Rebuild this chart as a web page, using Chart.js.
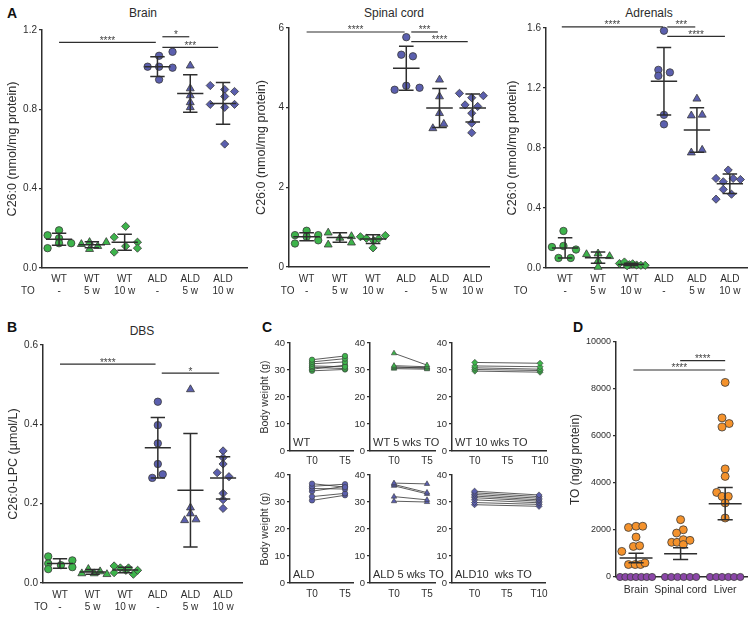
<!DOCTYPE html>
<html>
<head>
<meta charset="utf-8">
<title>C26:0 and TO levels</title>
<script src="https://cdn.jsdelivr.net/npm/chart.js@4.4.1/dist/chart.umd.min.js"></script>
<style>
  body { margin: 0; background: #fff; font-family: "Liberation Sans", Arial, Helvetica, sans-serif; color: #2b2b2b; }
  #fig { position: relative; width: 756px; height: 619px; overflow: hidden; }
  #fig canvas { position: absolute; }
  .panel { position: absolute; font-weight: bold; font-size: 14px; line-height: 15px; color: #111; }
  .title { position: absolute; font-size: 12px; line-height: 14px; transform: translateX(-50%); white-space: nowrap; }
</style>
</head>
<body>
<div id="fig">
  <div class="panel" style="left:7px;top:6px">A</div>
  <div class="panel" style="left:7px;top:320px">B</div>
  <div class="panel" style="left:262px;top:320px">C</div>
  <div class="panel" style="left:573px;top:320px">D</div>
  <div class="title" style="left:143px;top:6px">Brain</div>
  <div class="title" style="left:394px;top:6px">Spinal cord</div>
  <div class="title" style="left:649px;top:6px">Adrenals</div>
  <div class="title" style="left:142px;top:324px">DBS</div>

  <canvas id="brain" width="252" height="300" style="left:0px;top:0px"></canvas>
  <canvas id="spinal" width="244" height="300" style="left:252px;top:0px"></canvas>
  <canvas id="adrenals" width="256" height="300" style="left:500px;top:0px"></canvas>
  <canvas id="dbs" width="250" height="319" style="left:0px;top:300px"></canvas>
  <canvas id="c1" width="106" height="140" style="left:252px;top:330px"></canvas>
  <canvas id="c2" width="100" height="140" style="left:355px;top:330px"></canvas>
  <canvas id="c3" width="116" height="140" style="left:437px;top:330px"></canvas>
  <canvas id="c4" width="106" height="140" style="left:252px;top:462px"></canvas>
  <canvas id="c5" width="100" height="140" style="left:355px;top:462px"></canvas>
  <canvas id="c6" width="116" height="140" style="left:437px;top:462px"></canvas>
  <canvas id="dplot" width="201" height="319" style="left:555px;top:300px"></canvas>
</div>
<script>
var FONT = '"Liberation Sans", Arial, Helvetica, sans-serif';
var INK = '#2e2e2e', EDGE = '#3a3a3a';
var GREEN = '#3db44b', BLUE = '#5b5fae', ORANGE = '#f4922c', PURPLE = '#8b46a8';

// ---- data ----
var groups = [['WT', '-'], ['WT', '5 w'], ['WT', '10 w'], ['ALD', '-'], ['ALD', '5 w'], ['ALD', '10 w']];

var brainVals = [
    [0.19, 0.165, 0.15, 0.125, 0.125, 0.10],
    [0.12, 0.13, 0.095, 0.11, 0.13],
    [0.155, 0.08, 0.21, 0.11, 0.13, 0.10],
    [1.015, 1.07, 1.015, 0.95, 1.09, 1.01],
    [1.02, 0.905, 0.87, 0.835, 0.81],
    [0.92, 0.90, 0.865, 0.89, 0.825, 0.81, 0.825, 0.625]
];
var brainJit = [
    [0, -0.35, 0, 0, 0.37, -0.35],
    [-0.32, -0.07, -0.07, 0.18, 0.44],
    [-0.32, -0.32, 0.03, 0.03, 0.39, 0.39],
    [-0.3, 0.05, 0.05, 0.05, 0.46, 0.46],
    [0, 0, 0, 0, 0],
    [-0.39, 0.05, 0.05, 0.35, -0.39, 0.05, 0.35, 0.05]
];
var brainMean = [0.145, 0.117, 0.13, 1.015, 0.88, 0.83];
var brainSD = [0.03, 0.015, 0.04, 0.05, 0.095, 0.105];
var brainSig = [[0, 2.95, 1.138, '****'], [3.15, 3.97, 1.166, '*'], [3.15, 4.85, 1.112, '***']];

var spinalVals = [
    [0.80, 0.59, 0.91, 0.76, 0.80, 0.67],
    [0.86, 0.56, 0.73, 0.77, 0.61],
    [0.76, 0.72, 0.48, 0.66, 0.71, 0.79],
    [5.77, 5.33, 5.29, 4.45, 4.55, 4.50],
    [4.70, 4.28, 3.86, 3.48, 3.59],
    [4.36, 4.30, 4.25, 4.07, 4.03, 3.86, 3.61, 3.37]
];
var spinalJit = [
    [-0.35, -0.35, 0, 0, 0.35, 0.35],
    [-0.35, -0.35, 0, 0.35, 0.35],
    [-0.38, -0.2, 0, 0.02, 0.17, 0.37],
    [0, -0.15, 0.2, -0.35, 0, 0.4],
    [0, 0, 0, -0.2, 0.13],
    [-0.4, 0.32, -0.03, -0.23, 0.15, -0.03, -0.03, -0.03]
];
var spinalMean = [0.76, 0.74, 0.70, 4.99, 3.99, 3.99];
var spinalSD = [0.1, 0.12, 0.11, 0.55, 0.49, 0.35];
var spinalSig = [[0, 2.95, 5.9, '****'], [3.15, 3.95, 5.9, '***'], [3.15, 4.85, 5.66, '****']];

var adrVals = [
    [0.247, 0.14, 0.147, 0.123, 0.067, 0.067],
    [0.091, 0.096, 0.078, 0.047, 0.007],
    [0.03, 0.04, 0.022, 0.028, 0.02, 0.018, 0.018, 0.015],
    [1.582, 1.321, 1.281, 1.304, 1.021, 0.958],
    [1.128, 1.016, 1.021, 0.769, 0.787],
    [0.653, 0.597, 0.597, 0.59, 0.575, 0.524, 0.459, 0.492]
];
var adrJit = [
    [-0.05, -0.4, -0.05, 0.33, -0.2, 0.17],
    [-0.35, 0, 0.35, 0, 0],
    [-0.35, -0.2, -0.05, 0.05, 0.17, 0.3, 0.43, -0.12],
    [0, -0.17, -0.17, 0.18, 0, 0],
    [0, -0.17, 0.16, -0.17, 0.16],
    [-0.05, -0.42, 0.1, 0.32, -0.2, -0.2, -0.42, 0.05]
];
var adrMean = [0.134, 0.069, 0.024, 1.245, 0.92, 0.562];
var adrSD = [0.067, 0.037, 0.008, 0.225, 0.148, 0.065];
var adrSig = [[-0.1, 2.97, 1.607, '****'], [3.1, 3.95, 1.607, '***'], [3.1, 4.85, 1.544, '****']];

var dbsVals = [
    [0.067, 0.049, 0.035, 0.045, 0.057, 0.040],
    [0.024, 0.035, 0.024, 0.029, 0.022],
    [0.043, 0.026, 0.038, 0.032, 0.038, 0.022, 0.032],
    [0.457, 0.398, 0.352, 0.300, 0.265, 0.274],
    [0.488, 0.19, 0.175, 0.158, 0.16],
    [0.333, 0.316, 0.300, 0.278, 0.268, 0.226, 0.210, 0.188]
];
var dbsJit = [
    [-0.36, -0.36, -0.36, 0.03, 0.38, 0.38],
    [-0.33, -0.13, 0.05, 0.23, 0.44],
    [-0.34, -0.34, -0.15, 0.02, 0.1, 0.25, 0.38],
    [0, 0, 0, 0, -0.17, 0.15],
    [0, 0, 0, -0.18, 0.17],
    [0, 0, 0, -0.18, 0.18, 0, 0, 0]
];
var dbsMean = [0.049, 0.028, 0.033, 0.341, 0.234, 0.265];
var dbsSD = [0.012, 0.006, 0.007, 0.076, 0.143, 0.053];
var dbsSig = [[0, 2.93, 0.552, '****'], [3.12, 4.88, 0.529, '*']];

// body weight (g), one entry per mouse: start and end of treatment
var wtT0 = [33.8, 33.0, 32.3, 31.5, 31.0, 30.3, 29.7];
var wtT5 = [35.2, 34.2, 33.0, 31.2, 30.5, 31.8, 30.2];
var wt5T0 = [36.2, 31.6, 31.2, 30.8, 30.5];
var wt5T5 = [31.8, 31.2, 30.6, 30.9, 30.3];
var wt10T0 = [32.8, 31.5, 30.8, 30.2, 29.6];
var wt10T10 = [32.5, 31.2, 30.3, 29.8, 29.2];
var aldT0 = [36.8, 35.8, 35.0, 34.0, 32.0, 30.6];
var aldT5 = [35.5, 36.6, 34.8, 35.8, 33.2, 32.5];
var ald5T0 = [37.0, 36.5, 36.0, 32.0, 30.3];
var ald5T5 = [36.7, 33.5, 33.0, 30.8, 30.0];
var ald10T0 = [34.0, 33.4, 32.8, 32.2, 31.6, 30.8, 29.8, 29.0];
var ald10T10 = [32.6, 32.0, 31.4, 30.8, 30.3, 29.7, 29.1, 28.4];

var toCats = ['Brain', 'Spinal cord', 'Liver'];
var toPos = [
    [2110, 2160, 2160, 1700, 1300, 1330, 1090, 530, 530, 530, 600],
    [2440, 2010, 1870, 1475, 1475, 1590, 1560, 1380],
    [8280, 6770, 6380, 6530, 4600, 4280, 3600, 3430, 3430, 3150, 2510]
];
var toPosJit = [
    [-0.17, 0, 0.15, 0, -0.06, 0.08, -0.32, -0.17, -0.02, 0.1, 0.2],
    [0, 0.06, -0.09, -0.2, -0.08, 0.06, 0.21, 0.06],
    [0, -0.07, -0.07, 0.09, 0, 0, -0.19, -0.07, 0.07, 0, 0]
];
var toNeg = [[0, 0, 0, 0, 0, 0, 0], [0, 0, 0, 0, 0, 0], [0, 0, 0, 0, 0, 0]];
var toNegJit = [
    [-0.36, -0.24, -0.12, 0, 0.12, 0.24, 0.36],
    [-0.35, -0.21, -0.07, 0.07, 0.21, 0.35],
    [-0.34, -0.2, -0.07, 0.07, 0.2, 0.34]
];
var toMean = [808, 993, 3121];
var toSEM = [200, 250, 690];
var toSig = [[0.99, 2.0, 9206, '****'], [-0.06, 2.0, 8809, '****']];

// ---- defaults ----
Chart.defaults.font.family = FONT;
Chart.defaults.color = INK;
Chart.defaults.animation = false;
Chart.defaults.responsive = false;
Chart.defaults.devicePixelRatio = 1;
Chart.defaults.events = [];
Chart.defaults.plugins.legend.display = false;
Chart.defaults.plugins.tooltip.enabled = false;

// ---- plugins ----
var errorBars = {
    id: 'errorBars',
    afterDatasetsDraw: function (chart, args, opts) {
        if (!opts.mean) return;
        var ctx = chart.ctx, x = chart.scales.x, y = chart.scales.y;
        ctx.save();
        ctx.strokeStyle = INK;
        ctx.lineWidth = 1.5;
        opts.mean.forEach(function (m, i) {
            var e = opts.err[i];
            var xc = x.getPixelForValue(i);
            var w = x.getPixelForValue(i + opts.w) - xc;
            var cw = x.getPixelForValue(i + opts.cw) - xc;
            var ym = y.getPixelForValue(m), yt = y.getPixelForValue(m + e), yb = y.getPixelForValue(m - e);
            ctx.beginPath();
            ctx.moveTo(xc - w, ym); ctx.lineTo(xc + w, ym);
            ctx.moveTo(xc, yt); ctx.lineTo(xc, yb);
            ctx.moveTo(xc - cw, yt); ctx.lineTo(xc + cw, yt);
            ctx.moveTo(xc - cw, yb); ctx.lineTo(xc + cw, yb);
            ctx.stroke();
        });
        ctx.restore();
    }
};

var sigBars = {
    id: 'sigBars',
    afterDraw: function (chart, args, opts) {
        if (!opts.bars) return;
        var ctx = chart.ctx, x = chart.scales.x, y = chart.scales.y;
        ctx.save();
        ctx.strokeStyle = INK;
        ctx.fillStyle = '#444';
        ctx.lineWidth = 1.2;
        ctx.font = '10px ' + FONT;
        ctx.textAlign = 'center';
        ctx.textBaseline = 'alphabetic';
        opts.bars.forEach(function (b) {
            var x1 = x.getPixelForValue(b[0]), x2 = x.getPixelForValue(b[1]), yy = y.getPixelForValue(b[2]);
            ctx.beginPath();
            ctx.moveTo(x1, yy); ctx.lineTo(x2, yy);
            ctx.stroke();
            ctx.fillText(b[3], (x1 + x2) / 2, yy + 1.5);
        });
        ctx.restore();
    }
};

var notes = {
    id: 'notes',
    afterDraw: function (chart, args, opts) {
        var ctx = chart.ctx, x = chart.scales.x, a = chart.chartArea;
        ctx.save();
        ctx.fillStyle = INK;
        if (opts.toX !== undefined) {
            ctx.font = '10px ' + FONT;
            ctx.textAlign = 'center';
            ctx.textBaseline = 'middle';
            ctx.fillText('TO', x.getPixelForValue(opts.toX), x.top + opts.xPad + 12.5 * 1.5);
        }
        if (opts.corner) {
            ctx.font = '11px ' + FONT;
            ctx.textAlign = 'left';
            ctx.textBaseline = 'bottom';
            ctx.fillText(opts.corner, a.left + 3, a.bottom - 3);
        }
        ctx.restore();
    }
};

// canvas box -> padding so that the plot area lands on the given absolute box
function frame(id, area) {
    var c = document.getElementById(id);
    var L = parseInt(c.style.left), T = parseInt(c.style.top);
    return {
        el: c, left: L,
        pad: {left: 0, top: area[1] - T, right: L + c.width - area[2], bottom: 0},
        yw: area[0] - L, xh: T + c.height - area[3]
    };
}

function scatterPoints(vals, jit, i) {
    return vals.map(function (v, k) { return {x: i + jit[k], y: v}; });
}

function plotChart(id, area, o) {
    var f = frame(id, area);
    return new Chart(f.el, {
        type: 'scatter',
        data: {datasets: o.datasets},
        options: {
            layout: {padding: f.pad, autoPadding: false},
            scales: {
                x: {
                    type: 'linear', min: o.xMin, max: o.xMax,
                    afterFit: function (s) { s.height = f.xh; },
                    afterBuildTicks: function (s) {
                        s.ticks = o.cats.map(function (c, i) { return {value: i}; });
                    },
                    ticks: {
                        autoSkip: false, maxRotation: 0, padding: o.xPad, color: INK,
                        font: {size: o.xFont || 10, lineHeight: 1.25},
                        callback: function (v) { return o.cats[v]; }
                    },
                    grid: {display: false, drawTicks: false},
                    border: {color: INK, width: 1.5}
                },
                y: {
                    min: o.yMin, max: o.yMax,
                    afterFit: function (s) { s.width = f.yw; },
                    ticks: {stepSize: o.yStep, padding: 2, color: INK, font: {size: o.yFont || 10}, callback: o.yFmt},
                    grid: {drawOnChartArea: false, tickLength: 3, color: INK, lineWidth: 1.2},
                    border: {color: INK, width: 1.5},
                    title: {
                        display: !!o.yTitle, text: o.yTitle, color: INK,
                        font: {size: o.yTitleSize || 12.5, lineHeight: 1.2},
                        padding: {top: o.yTitleX - f.left - (o.yTitleSize || 12.5) * 0.6, bottom: 0}
                    }
                }
            },
            plugins: {
                errorBars: {mean: o.mean, err: o.err, w: o.w || 0.4, cw: o.cw || 0.22},
                sigBars: {bars: o.sig},
                notes: {toX: o.toX, xPad: o.xPad, corner: o.corner}
            }
        },
        plugins: [errorBars, sigBars, notes]
    });
}

var shapes = ['circle', 'triangle', 'rectRot', 'circle', 'triangle', 'rectRot'];
var fills = [GREEN, GREEN, GREEN, BLUE, BLUE, BLUE];
var sizes = {circle: 3.7, triangle: 4.6, rectRot: 4.1};

function groupSets(vals, jit) {
    return vals.map(function (v, i) {
        return {
            data: scatterPoints(v, jit[i], i),
            pointStyle: shapes[i], pointRadius: sizes[shapes[i]],
            backgroundColor: fills[i], borderColor: EDGE, borderWidth: 0.8, clip: false
        };
    });
}

function fmt1(v) { return v.toFixed(1); }

plotChart('brain', [42, 30, 247, 268], {
    datasets: groupSets(brainVals, brainJit), cats: groups,
    xMin: -0.52, xMax: 5.73, xPad: 4.75, yMin: 0, yMax: 1.2, yStep: 0.4, yFmt: fmt1,
    yTitle: 'C26:0 (nmol/mg protein)', yTitleX: 13,
    mean: brainMean, err: brainSD, sig: brainSig, toX: -0.95
});

plotChart('spinal', [289, 28, 489, 267], {
    datasets: groupSets(spinalVals, spinalJit), cats: groups,
    xMin: -0.53, xMax: 5.49, xPad: 5.75, yMin: 0, yMax: 6, yStep: 2,
    yFmt: function (v) { return v; },
    yTitle: 'C26:0 (nmol/mg protein)', yTitleX: 262,
    mean: spinalMean, err: spinalSD, sig: spinalSig, toX: -0.57
});

plotChart('adrenals', [546, 28, 747, 268], {
    datasets: groupSets(adrVals, adrJit), cats: groups,
    xMin: -0.58, xMax: 5.52, xPad: 4.75, yMin: 0, yMax: 1.6, yStep: 0.4, yFmt: fmt1,
    yTitle: 'C26:0 (nmol/mg protein)', yTitleX: 513,
    mean: adrMean, err: adrSD, sig: adrSig, toX: -1.35
});

plotChart('dbs', [43, 345, 242, 583], {
    datasets: groupSets(dbsVals, dbsJit), cats: groups,
    xMin: -0.52, xMax: 5.58, xPad: 5.75, yMin: 0, yMax: 0.6, yStep: 0.2, yFmt: fmt1,
    yTitle: 'C26:0-LPC (\u00b5mol/L)', yTitleX: 14,
    mean: dbsMean, err: dbsSD, sig: dbsSig, toX: -0.58
});

function weightChart(id, area, t0, t1, labels, shape, color, corner, title, xMin, xMax) {
    var sets = t0.map(function (v, k) {
        return {
            data: [{x: 0, y: v}, {x: labels.length - 1, y: t1[k]}],
            showLine: true, borderColor: '#333', borderWidth: 0.8,
            pointStyle: shape, pointRadius: shape === 'circle' ? 2.7 : 3.1,
            pointBackgroundColor: color, pointBorderColor: EDGE, pointBorderWidth: 0.6, clip: false
        };
    });
    plotChart(id, area, {
        datasets: sets, cats: labels, xMin: xMin, xMax: xMax, xPad: area[3] > 500 ? 5 : 4,
        yMin: 0, yMax: 40, yStep: 10, yFont: 9.5, yFmt: function (v) { return v; },
        yTitle: title, yTitleX: 265, yTitleSize: 10.5, corner: corner
    });
}

var bw = 'Body weight (g)';
weightChart('c1', [290, 343, 353, 451], wtT0, wtT5, ['T0', 'T5'], 'circle', GREEN, 'WT', bw, -0.667, 1.242);
weightChart('c2', [370, 343, 435, 451], wt5T0, wt5T5, ['T0', 'T5'], 'triangle', GREEN, 'WT 5 wks TO', '', -0.727, 1.242);
weightChart('c3', [452, 343, 548, 451], wt10T0, wt10T10, ['T0', 'T5', 'T10'], 'rectRot', GREEN, 'WT 10 wks TO', '', -0.70, 2.21);
weightChart('c4', [290, 475, 353, 583], aldT0, aldT5, ['T0', 'T5'], 'circle', BLUE, 'ALD', bw, -0.667, 1.242);
weightChart('c5', [370, 475, 435, 583], ald5T0, ald5T5, ['T0', 'T5'], 'triangle', BLUE, 'ALD 5 wks TO', '', -0.727, 1.242);
weightChart('c6', [452, 475, 548, 583], ald10T0, ald10T10, ['T0', 'T5', 'T10'], 'rectRot', BLUE, 'ALD10  wks TO', '', -0.70, 2.21);

var negPts = [], posPts = [];
toCats.forEach(function (c, i) {
    negPts = negPts.concat(scatterPoints(toNeg[i], toNegJit[i], i));
    posPts = posPts.concat(scatterPoints(toPos[i], toPosJit[i], i));
});

plotChart('dplot', [616, 342, 747, 577], {
    datasets: [
        {data: negPts, pointRadius: 3.6, backgroundColor: PURPLE, borderColor: EDGE, borderWidth: 0.8, clip: false},
        {data: posPts, pointRadius: 4, backgroundColor: ORANGE, borderColor: EDGE, borderWidth: 0.8, clip: false}
    ],
    cats: toCats, xMin: -0.45, xMax: 2.49, xPad: 6.7, xFont: 10.5,
    yMin: 0, yMax: 10000, yStep: 2000, yFont: 9, yFmt: function (v) { return v; },
    yTitle: 'TO (ng/g protein)', yTitleX: 576, yTitleSize: 12,
    mean: toMean, err: toSEM, w: 0.37, cw: 0.17, sig: toSig
});
</script>
</body>
</html>
